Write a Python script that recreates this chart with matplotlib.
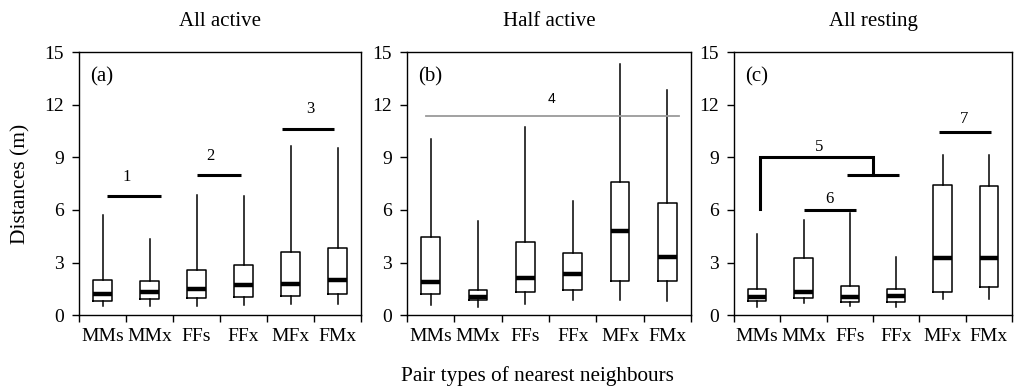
import numpy as np
import matplotlib
matplotlib.use("Agg")
import matplotlib.pyplot as plt

plt.rcParams["font.family"] = ["Liberation Serif", "DejaVu Serif"]

cats = ["MMs", "MMx", "FFs", "FFx", "MFx", "FMx"]
titles = ["All active", "Half active", "All resting"]
panel_tags = ["(a)", "(b)", "(c)"]

# low whisker, q1, median, q3, high whisker for each pair type
a_low = [0.50, 0.55, 0.55, 0.60, 0.65, 0.65]
a_q1 = [0.80, 0.90, 1.00, 1.05, 1.10, 1.20]
a_med = [1.20, 1.30, 1.50, 1.70, 1.80, 2.00]
a_q3 = [2.00, 1.95, 2.60, 2.85, 3.60, 3.85]
a_high = [5.70, 4.35, 6.85, 6.80, 9.65, 9.55]

b_low = [0.57, 0.47, 0.62, 0.89, 0.85, 0.81]
b_q1 = [1.19, 0.89, 1.31, 1.46, 1.95, 1.95]
b_med = [1.90, 1.04, 2.12, 2.33, 4.82, 3.31]
b_q3 = [4.48, 1.42, 4.18, 3.54, 7.60, 6.37]
b_high = [10.02, 5.39, 10.74, 6.49, 14.32, 12.86]

c_low = [0.48, 0.71, 0.52, 0.48, 0.90, 0.90]
c_q1 = [0.82, 0.99, 0.76, 0.76, 1.32, 1.62]
c_med = [1.05, 1.30, 1.05, 1.11, 3.25, 3.25]
c_q3 = [1.47, 3.25, 1.66, 1.47, 7.40, 7.36]
c_high = [4.64, 5.45, 5.85, 3.31, 9.13, 9.13]

panels = [
    (a_low, a_q1, a_med, a_q3, a_high),
    (b_low, b_q1, b_med, b_q3, b_high),
    (c_low, c_q1, c_med, c_q3, c_high),
]

# significance bars: (panel, x0, x1, y, label, label x, label y)
sig_bars = [
    (0, 0.10, 1.25, 6.8, "1", 0.52, 7.9),
    (0, 2.01, 2.95, 8.02, "2", 2.30, 9.1),
    (0, 3.81, 4.93, 10.6, "3", 4.43, 11.75),
    (2, 1.01, 2.13, 5.98, "6", 1.57, 6.6),
    (2, 3.92, 5.05, 10.45, "7", 4.46, 11.2),
]

fig = plt.figure(figsize=(10.19, 3.92), dpi=100)
lefts = [79 / 1019, 407 / 1019, 734 / 1019]
widths = [282 / 1019, 284 / 1019, 278 / 1019]
axes = [fig.add_axes([l, 0.196, w, 0.671]) for l, w in zip(lefts, widths)]

for i, ax in enumerate(axes):
    low, q1, med, q3, high = panels[i]
    stats = []
    for k in range(len(cats)):
        stats.append(dict(med=med[k], q1=q1[k], q3=q3[k],
                          whislo=low[k], whishi=high[k], fliers=[]))
    ax.bxp(stats, positions=range(len(cats)), widths=0.4, showcaps=False,
           showfliers=False,
           boxprops=dict(color="black", linewidth=1.1),
           whiskerprops=dict(color="black", linewidth=1.1),
           medianprops=dict(color="black", linewidth=3.2,
                            solid_capstyle="butt"))
    ax.set_xlim(-0.5, 5.5)
    ax.set_ylim(0, 15)
    ax.set_yticks([0, 3, 6, 9, 12, 15])
    ax.set_xticks(np.arange(-0.5, 6, 1.0), labels=[""] * 7)
    ax.set_xticks(range(len(cats)), labels=cats, minor=True)
    ax.tick_params(axis="x", which="major", length=5, width=1, direction="out")
    ax.tick_params(axis="x", which="minor", length=0, pad=9, labelsize=14)
    ax.tick_params(axis="y", length=5, width=1, direction="out", pad=6,
                   labelsize=14)
    for sp in ax.spines.values():
        sp.set_linewidth(1.0)
    ax.set_title(titles[i], fontsize=15, pad=19)
    ax.text(0.04, 0.905, panel_tags[i], transform=ax.transAxes,
            fontsize=15, ha="left", va="center")

axes[0].set_ylabel("Distances (m)", fontsize=15.5, labelpad=10)

for p, x0, x1, y, lab, lx, ly in sig_bars:
    ax = axes[p]
    ax.plot([x0, x1], [y, y], color="black", linewidth=2.2,
            solid_capstyle="butt")
    ax.text(lx, ly, lab, fontsize=12, ha="center", va="center")

# bar 4 (grey, sans font) in panel (b)
axes[1].plot([-0.09, 5.25], [11.35, 11.35], color="#9a9a9a", linewidth=1.3)
axes[1].text(2.56, 12.3, "4", fontsize=10, ha="center", va="center",
             family="Liberation Sans")

# bracket 5 in panel (c)
axes[2].plot([0.06, 0.06, 2.5, 2.5], [6.06, 9.02, 9.02, 7.99],
             color="black", linewidth=2.2, solid_joinstyle="miter")
axes[2].plot([1.93, 3.06], [7.99, 7.99], color="black", linewidth=2.2,
             solid_capstyle="butt")
axes[2].text(1.34, 9.6, "5", fontsize=12, ha="center", va="center")

fig.text(0.527, 0.04, "Pair types of nearest neighbours", ha="center",
         va="center", fontsize=15.3)

fig.savefig("out.png", dpi=100)
